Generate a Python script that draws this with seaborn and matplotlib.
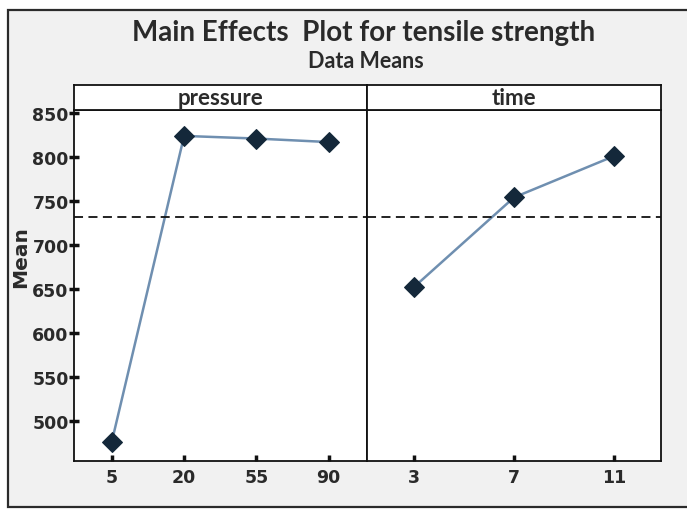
import seaborn as sns
import pandas as pd
import matplotlib.pyplot as plt
from matplotlib.patches import Rectangle

# values
pressure_levels = ['5', '20', '55', '90']
pressure_means = [476, 824, 821, 817]
time_levels = ['3', '7', '11']
time_means = [652, 754, 801]
grand_mean = 732
y_ticks = [500, 550, 600, 650, 700, 750, 800, 850]

sns.set_theme(style='white')
plt.rcParams['font.family'] = ['DejaVu Sans']
plt.rcParams['font.weight'] = 'bold'

W, H = 687, 510
fig = plt.figure(figsize=(W / 100, H / 100), dpi=100)
fig.patch.set_facecolor('white')

# outer grey frame
frame = Rectangle((8 / W, (H - 508) / H), 690 / W, (508 - 11) / H,
                  transform=fig.transFigure, facecolor='#f1f1f1',
                  edgecolor='#2b2b2b', linewidth=1.6, zorder=-10)
fig.patches.append(frame)


def px(x0, y0, x1, y1):
    return [x0 / W, (H - y1) / H, (x1 - x0) / W, (y1 - y0) / H]


line_col = '#6f8fb0'
mark_col = '#14283a'
text_col = '#2a2a2a'

panels = [('pressure', pressure_levels, pressure_means, 73.5, 367),
          ('time', time_levels, time_means, 367, 661)]

for i, (name, levels, means, x0, x1) in enumerate(panels):
    ax = fig.add_axes(px(x0, 111, x1, 462))
    ax.set_facecolor('white')
    df = pd.DataFrame({name: levels, 'Mean': means})
    sns.lineplot(data=df, x=name, y='Mean', ax=ax, color=line_col, linewidth=1.8,
                 marker='D', markersize=10.5, markerfacecolor=mark_col,
                 markeredgecolor=mark_col, sort=False)
    ax.axhline(grand_mean, color='#111111', linestyle=(0, (5, 3)), linewidth=1.3)
    n = len(levels)
    pad = 0.53 if n == 4 else 0.47
    ax.set_xlim(-pad, n - 1 + pad)
    ax.set_ylim(454, 853.5)
    ax.set_xlabel('')
    ax.set_ylabel('')
    for s in ax.spines.values():
        s.set_color('#111111')
        s.set_linewidth(1.3)
    ax.tick_params(axis='x', bottom=True, direction='in', length=4, width=2.5,
                   color='#111111', labelsize=12.5, pad=5)
    for lab in ax.get_xticklabels():
        lab.set_fontweight('bold')
        lab.set_color(text_col)
    if i == 0:
        ax.set_yticks(y_ticks)
        ax.tick_params(axis='y', left=True, direction='inout', length=7, width=2.5,
                       color='#111111', labelsize=12.5, pad=0)
        for lab in ax.get_yticklabels():
            lab.set_fontweight('bold')
            lab.set_color(text_col)
    else:
        ax.set_yticks([])

    # strip header
    sax = fig.add_axes(px(x0, 86, x1, 111))
    sax.set_facecolor('white')
    sax.set_xticks([])
    sax.set_yticks([])
    for s in sax.spines.values():
        s.set_color('#111111')
        s.set_linewidth(1.3)
    sax.text(0.5, 0.5, name, ha='center', va='center', fontsize=16,
             fontweight='bold', color=text_col, family=['Lato', 'DejaVu Sans'],
             transform=sax.transAxes)

fig.text(21 / W, (H - 257) / H, 'Mean', rotation=90, ha='center', va='center',
         fontsize=14.5, fontweight='bold', color=text_col)
fig.text(364 / W, (H - 33) / H, 'Main Effects  Plot for tensile strength',
         ha='center', va='center', fontsize=20, fontweight='bold', color=text_col,
         family=['Lato', 'DejaVu Sans'])
fig.text(366 / W, (H - 62) / H, 'Data Means', ha='center', va='center',
         fontsize=15.5, fontweight='bold', color=text_col,
         family=['Lato', 'DejaVu Sans'])

fig.savefig('out.png', dpi=100, facecolor=fig.get_facecolor())
